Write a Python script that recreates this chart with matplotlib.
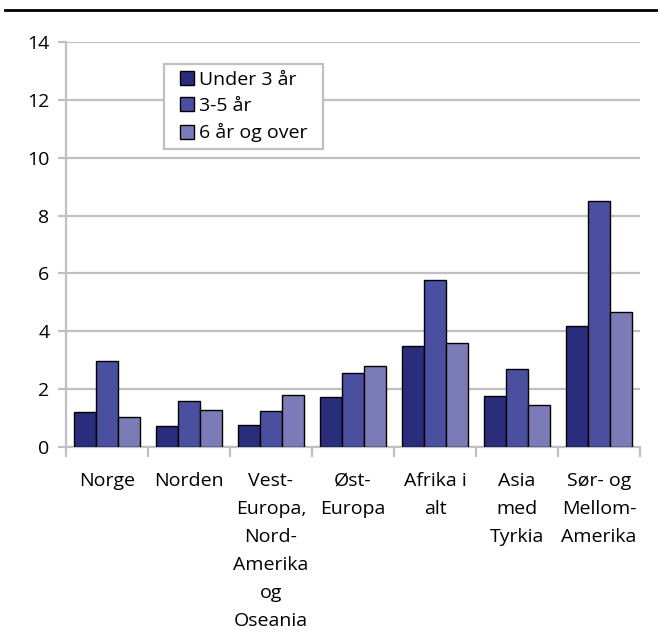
import numpy as np
import matplotlib.pyplot as plt
from matplotlib.lines import Line2D
from matplotlib.patches import Rectangle

plt.rcParams['font.family'] = ['Open Sans', 'DejaVu Sans']

categories = ["Norge", "Norden", "Vest-\nEuropa,\nNord-\nAmerika\nog\nOseania",
              "Øst-\nEuropa", "Afrika i\nalt", "Asia\nmed\nTyrkia",
              "Sør- og\nMellom-\nAmerika"]
under_3 = [1.22, 0.74, 0.75, 1.72, 3.50, 1.75, 4.17]
aar_3_5 = [2.96, 1.58, 1.23, 2.55, 5.76, 2.71, 8.50]
aar_6_pluss = [1.03, 1.27, 1.81, 2.81, 3.58, 1.45, 4.66]
series_labels = ["Under 3 år", "3-5 år", "6 år og over"]
colors = ["#2a2d7c", "#4b4f9f", "#7b7bb8"]

W, H = 658, 634
fig = plt.figure(figsize=(W / 100, H / 100), dpi=100)
ax = fig.add_axes([66/W, 1 - 447/H, 574/W, 405/H])

x = np.arange(len(categories))
w = 0.272
for i, (vals, lab, c) in enumerate(zip([under_3, aar_3_5, aar_6_pluss], series_labels, colors)):
    ax.bar(x + (i - 1) * w, vals, width=w, color=c, edgecolor="black",
           linewidth=1.0, label=lab, zorder=3)

ax.set_xlim(-0.5, len(categories) - 0.5)
ax.set_ylim(0, 14)
ax.set_yticks(range(0, 15, 2))
ax.yaxis.grid(True, color="#c0c0c0", linewidth=1.6, zorder=0)
ax.set_axisbelow(True)

ax.set_xticks(x)
ax.set_xticklabels(categories, fontsize=14, linespacing=1.72, va="top")
ax.set_xticks(np.arange(-0.5, len(categories)), minor=True)
ax.tick_params(axis="x", which="major", length=0, pad=18)
ax.tick_params(axis="x", which="minor", length=7, width=1.6, color="#c0c0c0")
ax.tick_params(axis="y", length=6, width=1.6, color="#c0c0c0", labelsize=14, pad=6)

for s in ["top", "right"]:
    ax.spines[s].set_visible(False)
for s in ["left", "bottom"]:
    ax.spines[s].set_color("#c0c0c0")
    ax.spines[s].set_linewidth(1.6)

# legend box drawn by hand so the padding matches
fig.add_artist(Rectangle((164/W, 1 - 149/H), (323 - 164)/W, (149 - 64)/H,
                         transform=fig.transFigure, facecolor="white",
                         edgecolor="#c0c0c0", linewidth=1.6, zorder=4))
leg = fig.legend(*ax.get_legend_handles_labels(), loc="upper left",
                 bbox_to_anchor=(180/W, 1 - 71/H), bbox_transform=fig.transFigure,
                 fontsize=14, frameon=False, handlelength=0.72, handleheight=0.72,
                 handletextpad=0.28, borderpad=0, labelspacing=0.42,
                 borderaxespad=0)
leg.set_zorder(5)

fig.add_artist(Line2D([5/W, 1], [1 - 10/H, 1 - 10/H], color="black", linewidth=2))

fig.savefig("out.png", dpi=100)
